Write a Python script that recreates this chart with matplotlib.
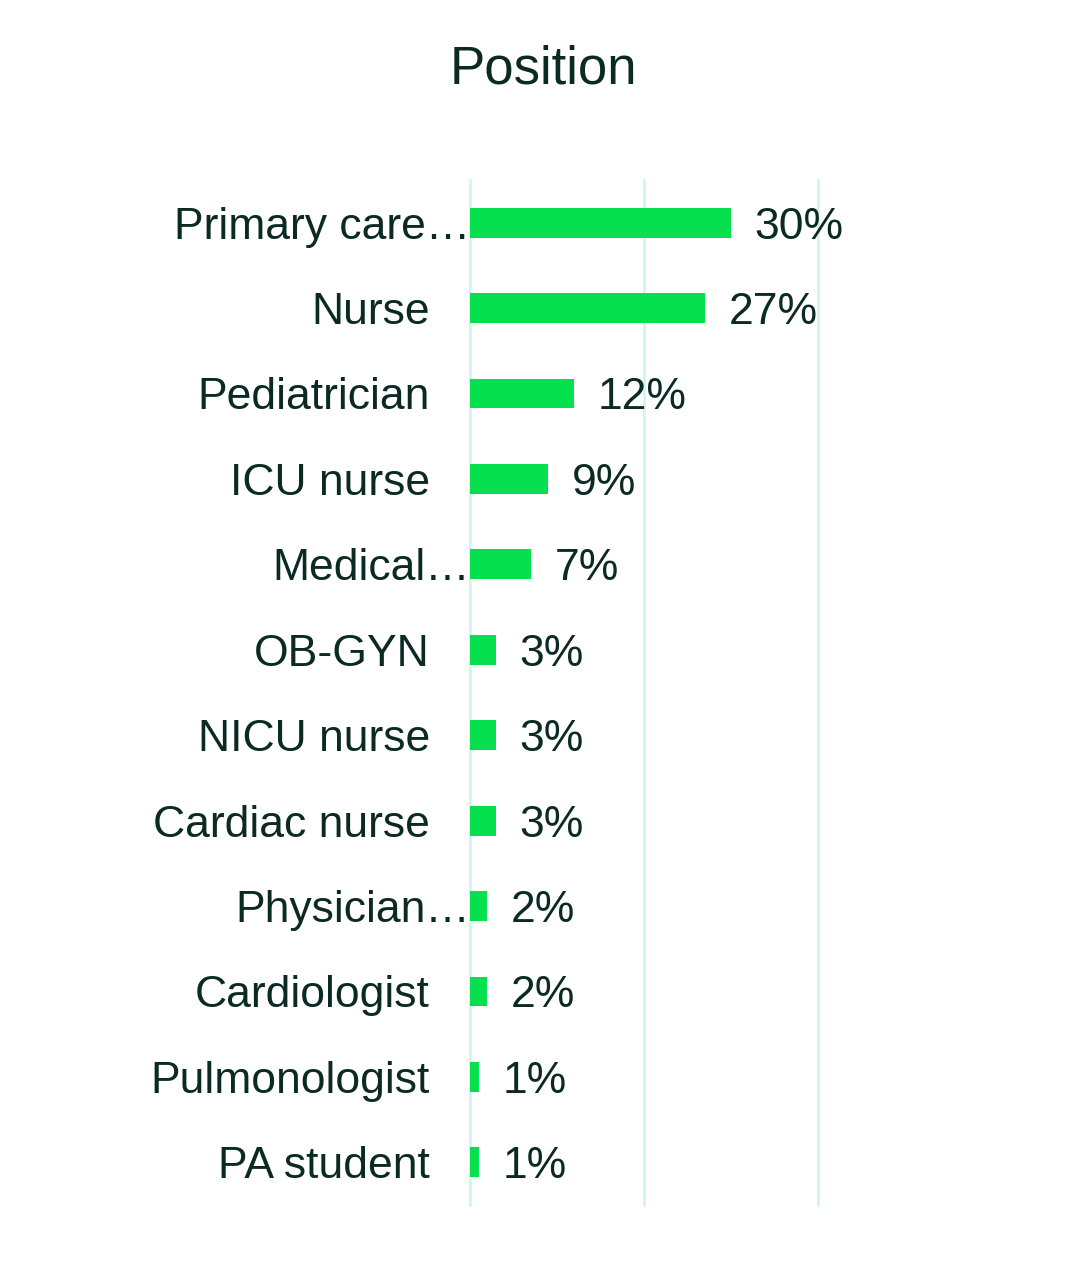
import matplotlib
matplotlib.use("Agg")
import matplotlib.pyplot as plt
from matplotlib.transforms import blended_transform_factory

plt.rcParams['font.family'] = ['Liberation Sans', 'DejaVu Sans']

categories = ["Primary care…", "Nurse", "Pediatrician", "ICU nurse", "Medical…",
              "OB-GYN", "NICU nurse", "Cardiac nurse", "Physician…", "Cardiologist",
              "Pulmonologist", "PA student"]
values = [30, 27, 12, 9, 7, 3, 3, 3, 2, 2, 1, 1]
value_labels = ["30%", "27%", "12%", "9%", "7%", "3%", "3%", "3%", "2%", "2%", "1%", "1%"]
title = "Position"

text_color = "#0b2a24"
bar_color = "#06e04f"
grid_color = "#d2f5f0"

FS = 32
cap_off = -0.716 * FS / 2

fig = plt.figure(figsize=(10.86, 12.8), dpi=100)
ax = fig.add_axes([470/1086, 1 - 1205/1280, (818 - 470)/1086, (1205 - 180)/1280])

y = list(range(len(categories)))
ax.barh(y, values, height=0.35, color=bar_color, zorder=3)
ax.set_xlim(0, 40)
ax.set_ylim(len(categories) - 0.5, -0.5)

ax.set_yticks([])
ax.set_xticks([])
for gx in [0, 20, 40]:
    ax.axvline(gx, color=grid_color, linewidth=2, zorder=0, clip_on=False)
for s in ax.spines.values():
    s.set_visible(False)

trans = blended_transform_factory(ax.transAxes, ax.transData)
for yi, cat in zip(y, categories):
    off = 0 if cat.endswith("…") else -40
    ax.annotate(cat, xy=(0, yi), xycoords=trans, xytext=(off * 0.72, cap_off),
                textcoords='offset points', ha='right', va='baseline',
                fontsize=FS, color=text_color)

for yi, v, lab in zip(y, values, value_labels):
    ax.annotate(lab, xy=(v, yi), xytext=(17, cap_off), textcoords='offset points',
                ha='left', va='baseline', fontsize=FS, color=text_color)

fig.text(0.5, 1 - 83/1280, title, ha='center', va='baseline', fontsize=38, color=text_color)

fig.savefig("out.png", dpi=100, facecolor='white')
